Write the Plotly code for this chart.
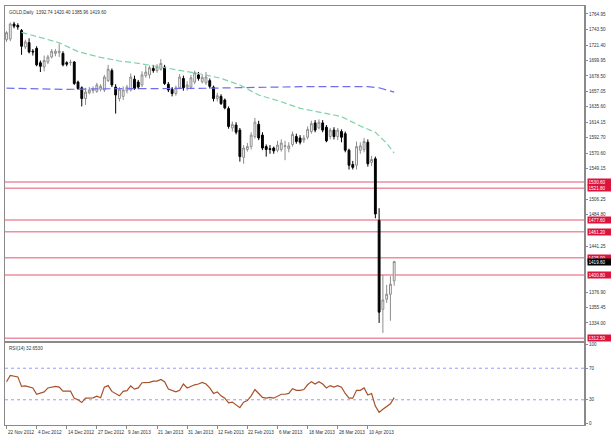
import plotly.graph_objects as go

# ---------------- data ----------------
date_labels = ["22 Nov 2012", "4 Dec 2012", "14 Dec 2012", "27 Dec 2012", "9 Jan 2013",
               "21 Jan 2013", "31 Jan 2013", "12 Feb 2013", "22 Feb 2013", "6 Mar 2013",
               "18 Mar 2013", "28 Mar 2013", "10 Apr 2013"]
label_bars = [0, 8, 16, 24, 32, 40, 48, 56, 64, 72, 80, 88, 96]

opens = [1729, 1730, 1751, 1749, 1742, 1719, 1725, 1713, 1717, 1697,
         1691, 1698, 1705, 1710, 1711, 1710, 1697, 1697, 1698, 1670,
         1662, 1647, 1655, 1658, 1657, 1660, 1659, 1672, 1686, 1663,
         1647, 1650, 1658, 1659, 1674, 1670, 1666, 1679, 1680, 1689,
         1686, 1688, 1691, 1667, 1660, 1654, 1662, 1675, 1663, 1663,
         1670, 1680, 1670.5, 1669, 1672, 1663, 1647, 1650, 1645, 1633,
         1606, 1610, 1603, 1565, 1576, 1580, 1594, 1611, 1596, 1580,
         1577, 1578, 1575, 1576, 1580, 1577, 1583, 1594, 1592, 1589,
         1593, 1601, 1613, 1606, 1613, 1607, 1594, 1603, 1594, 1601,
         1598, 1575, 1555, 1554, 1575, 1576, 1586, 1558, 1563, 1477,
         1353, 1367, 1374, 1392.74]
highs = [1741, 1753, 1754, 1752, 1744, 1729, 1731, 1716, 1720, 1700,
         1707, 1708, 1716, 1716, 1724, 1713, 1699, 1701, 1699, 1672,
         1664, 1662, 1663, 1664, 1669, 1667, 1680, 1694, 1689, 1667,
         1663, 1664, 1666, 1682, 1679, 1673, 1685, 1693, 1693, 1694,
         1695, 1702, 1694, 1670, 1663, 1665, 1681, 1679, 1671, 1680,
         1686, 1684, 1681, 1684, 1675, 1665, 1655, 1653, 1647, 1636,
         1615, 1614, 1606, 1582, 1585, 1600, 1620, 1616, 1600, 1583,
         1582, 1580, 1588, 1590, 1588, 1586, 1601, 1598, 1596, 1596,
         1608, 1616, 1617, 1618, 1617, 1610, 1606, 1607, 1606, 1604,
         1601, 1577, 1560, 1587, 1586, 1592, 1590, 1567, 1566, 1494,
         1401, 1387, 1399, 1420.40]
lows = [1726, 1727, 1745, 1743, 1708, 1716, 1710, 1707, 1692, 1684,
        1685, 1695, 1703, 1706, 1705, 1692, 1692, 1693, 1666, 1659,
        1636, 1638, 1653, 1654, 1655, 1657, 1656, 1670, 1663, 1626,
        1643, 1645, 1654, 1657, 1659, 1660, 1663, 1676, 1675, 1683,
        1683, 1686, 1666, 1656, 1650, 1651, 1660, 1658, 1658, 1660,
        1667, 1672, 1668, 1666, 1661, 1643, 1643, 1638, 1632, 1605,
        1601, 1597, 1559, 1556, 1573, 1576, 1591, 1589, 1575, 1566,
        1570, 1570, 1572, 1573, 1561, 1572, 1580, 1584, 1583, 1585,
        1590, 1598, 1600, 1604, 1600, 1586, 1590, 1590, 1589, 1586,
        1572, 1548, 1548, 1548, 1570, 1572, 1552, 1553, 1480, 1334,
        1320, 1362, 1337, 1385.96]
closes = [1739, 1751, 1748, 1747, 1720, 1726, 1712, 1712, 1694, 1692,
          1700, 1705, 1713, 1713, 1713, 1694, 1695, 1697.5, 1668, 1661,
          1647, 1656, 1659, 1660, 1666, 1664, 1677, 1688, 1666, 1652,
          1660, 1659, 1663, 1677, 1661, 1663, 1680, 1684, 1690, 1686,
          1692, 1696, 1668, 1659, 1654, 1662, 1677, 1662, 1666, 1676,
          1683, 1675, 1676.6, 1677, 1664, 1647, 1651, 1640, 1634, 1608,
          1611, 1600, 1566, 1578, 1580, 1596, 1614, 1592, 1578, 1576,
          1576, 1574, 1582, 1585, 1581, 1581, 1597, 1587, 1586, 1592,
          1604, 1612, 1603, 1614, 1603, 1588, 1603, 1594, 1603, 1593,
          1575, 1554, 1551, 1580, 1581, 1587, 1556, 1562, 1486, 1349,
          1366, 1374, 1388, 1419.60]

ma_fast_bars = [4, 14, 19, 25, 30, 35, 41, 46, 51, 57, 62, 67, 73, 78, 83, 87, 89, 94, 98, 101, 103]
ma_fast_vals = [1739.4, 1724.9, 1712.4, 1704.5, 1699.4, 1696.2, 1691.0, 1686.8, 1681.9, 1675.2,
                1665.9, 1651.9, 1642.6, 1633.4, 1628.7, 1624.0, 1621.7, 1608.7, 1599.9, 1584.6, 1571.0]
ma_slow_bars = [0, 4, 10, 16, 25, 34, 42, 51, 60, 69, 78, 87, 96, 99, 103]
ma_slow_vals = [1661.5, 1661, 1659.8, 1659.8, 1660.6, 1660.6, 1661.2, 1661.2, 1662, 1663,
                1663.5, 1663.5, 1663.5, 1662, 1656]

rsi_bars = [0, 1, 3, 4, 5, 7, 8, 10, 11, 13, 14, 15, 17, 18, 19, 20, 21, 23, 24, 25,
            26, 27, 28, 30, 31, 32, 33, 34, 35, 36, 38, 39, 40, 41, 42, 43, 45, 46, 47, 48,
            50, 51, 52, 53, 54, 55, 56, 57, 58, 59, 60, 61, 62, 63, 64, 65, 66, 67, 68, 69,
            70, 71, 72, 73, 74, 75, 76, 77, 78, 79, 80, 81, 82, 83, 84, 85, 86, 87, 88, 89,
            90, 91, 92, 93, 94, 95, 96, 97, 98, 99, 100, 101, 102, 103]
rsi_vals = [52.8, 61, 59, 47, 47.5, 45, 37, 40, 45, 47, 46, 41, 41, 32, 30, 26.5, 32, 32.5, 34.5, 32.5,
            46, 48, 40.6, 35, 40.6, 41.5, 47.5, 43.5, 45, 51.6, 52, 53.7, 53.7, 55.7, 52.8, 43.5, 40, 42, 50, 45,
            49, 50, 52, 50, 45, 38, 40, 35, 32, 26, 27, 24, 20, 27, 29, 35, 43, 38, 33, 32,
            33, 32, 35, 37, 37, 38, 44, 42, 42, 43, 49, 53, 50, 53, 50, 45, 48, 46, 48, 46,
            38, 32, 32, 42, 42, 45, 36, 38, 22, 14, 18, 21, 25, 32.65]

level_prices = [1530.6, 1521.8, 1477.6, 1461.2, 1425.0, 1400.8, 1312.5]
level_texts = ["1530.60", "1521.80", "1477.60", "1461.20", "1425.00", "1400.80", "1312.50"]
last_price = 1419.60

price_ticks = [1764.95, 1743.50, 1721.40, 1699.95, 1678.50, 1657.05, 1635.60, 1614.15, 1592.70,
               1570.60, 1549.15, 1506.25, 1484.80, 1441.25, 1376.90, 1355.45, 1334.00]
rsi_ticks = [0, 30, 70, 100]

title_text = "GOLD,Daily  1392.74 1420.40 1385.96 1419.60"
rsi_text = "RSI(14) 32.6530"

# ---------------- figure ----------------
FONT = "Liberation Sans"
FS = 4.6
bars = list(range(len(closes)))

fig = go.Figure()
fig.add_trace(go.Candlestick(
    x=bars, open=opens, high=highs, low=lows, close=closes,
    increasing=dict(line=dict(color="#8c8c8c", width=1), fillcolor="white"),
    decreasing=dict(line=dict(color="black", width=1), fillcolor="black"),
    xaxis="x", yaxis="y", showlegend=False, hoverinfo="skip"))
fig.add_trace(go.Scatter(x=ma_fast_bars, y=ma_fast_vals, mode="lines",
                         line=dict(color="#7fd3a8", width=1.2, dash="6px,3px"),
                         xaxis="x", yaxis="y", showlegend=False, hoverinfo="skip"))
fig.add_trace(go.Scatter(x=ma_slow_bars, y=ma_slow_vals, mode="lines",
                         line=dict(color="#6d6df0", width=1.2, dash="8px,4px"),
                         xaxis="x", yaxis="y", showlegend=False, hoverinfo="skip"))
fig.add_trace(go.Scatter(x=rsi_bars, y=rsi_vals, mode="lines",
                         line=dict(color="#a8502a", width=1.2),
                         xaxis="x2", yaxis="y2", showlegend=False, hoverinfo="skip"))

shapes = []
for p in level_prices:
    shapes.append(dict(type="line", xref="x domain", yref="y", x0=0, x1=1, y0=p, y1=p,
                       line=dict(color="#ee8ea2", width=1.5), layer="below"))
for lv in (30, 70):
    shapes.append(dict(type="line", xref="x2 domain", yref="y2", x0=0, x1=1, y0=lv, y1=lv,
                       line=dict(color="#9a9aff", width=1, dash="dot"), layer="below"))
# heavier right-hand frame as in the terminal screenshot
for yr in ("y domain", "y2 domain"):
    xr_ = "x domain" if yr == "y domain" else "x2 domain"
    shapes.append(dict(type="line", xref=xr_, yref=yr, x0=1, x1=1, y0=0, y1=1,
                       line=dict(color="#8a8a8a", width=2)))

annotations = []
for p, t in zip(level_prices, level_texts):
    annotations.append(dict(x=1, xref="paper", y=p, yref="y", text=t, showarrow=False,
                            xanchor="left", yanchor="middle", xshift=2,
                            font=dict(family=FONT, size=FS, color="white"),
                            bgcolor="#dc143c", borderpad=0.5, width=22, align="left"))
annotations.append(dict(x=1, xref="paper", y=last_price, yref="y", text=f"{last_price:.2f}",
                        showarrow=False, xanchor="left", yanchor="middle", xshift=2,
                        font=dict(family=FONT, size=FS, color="white"),
                        bgcolor="black", borderpad=0.5, width=22, align="left"))
for b, t in zip(label_bars, date_labels):
    annotations.append(dict(x=b, xref="x2", y=0, yref="paper", text=t, showarrow=False,
                            xanchor="left", yanchor="top", xshift=-1, yshift=-3,
                            font=dict(family=FONT, size=FS, color="#333333")))
annotations.append(dict(x=0, xref="paper", y=1, yref="paper", text=title_text, showarrow=False,
                        xanchor="left", yanchor="top", xshift=2, yshift=-2,
                        font=dict(family=FONT, size=FS, color="#333333")))
annotations.append(dict(x=0, xref="paper", y=0.1957, yref="paper", text=rsi_text, showarrow=False,
                        xanchor="left", yanchor="top", xshift=2, yshift=-1,
                        font=dict(family=FONT, size=FS, color="#333333")))

axis_line = dict(showline=True, mirror=True, linecolor="#8a8a8a", linewidth=1,
                 showgrid=False, zeroline=False)
xr = [-0.4, 153.7]
fig.update_layout(
    width=611, height=442,
    margin=dict(l=5, r=26, t=6, b=17),
    paper_bgcolor="white", plot_bgcolor="white",
    font=dict(family=FONT, size=FS, color="#333333"),
    xaxis=dict(domain=[0, 1], anchor="y", range=xr, showticklabels=False, ticks="",
               rangeslider=dict(visible=False), **axis_line),
    yaxis=dict(domain=[0.2005, 1], anchor="x", side="right", range=[1308.8, 1776.1],
               tickvals=price_ticks, ticktext=[f"{v:.2f}" for v in price_ticks],
               ticks="outside", ticklen=2, tickcolor="#8a8a8a",
               tickfont=dict(family=FONT, size=FS, color="#333333"), **axis_line),
    xaxis2=dict(domain=[0, 1], anchor="y2", range=xr, showticklabels=False,
                tickvals=label_bars, ticks="outside", ticklen=3, tickcolor="#8a8a8a", **axis_line),
    yaxis2=dict(domain=[0, 0.1957], anchor="x2", side="right", range=[-2, 102],
                tickvals=rsi_ticks, ticktext=[str(v) for v in rsi_ticks],
                ticks="outside", ticklen=2, tickcolor="#8a8a8a",
                tickfont=dict(family=FONT, size=FS, color="#333333"), **axis_line),
    shapes=shapes, annotations=annotations,
)

fig.write_html("out.html")
